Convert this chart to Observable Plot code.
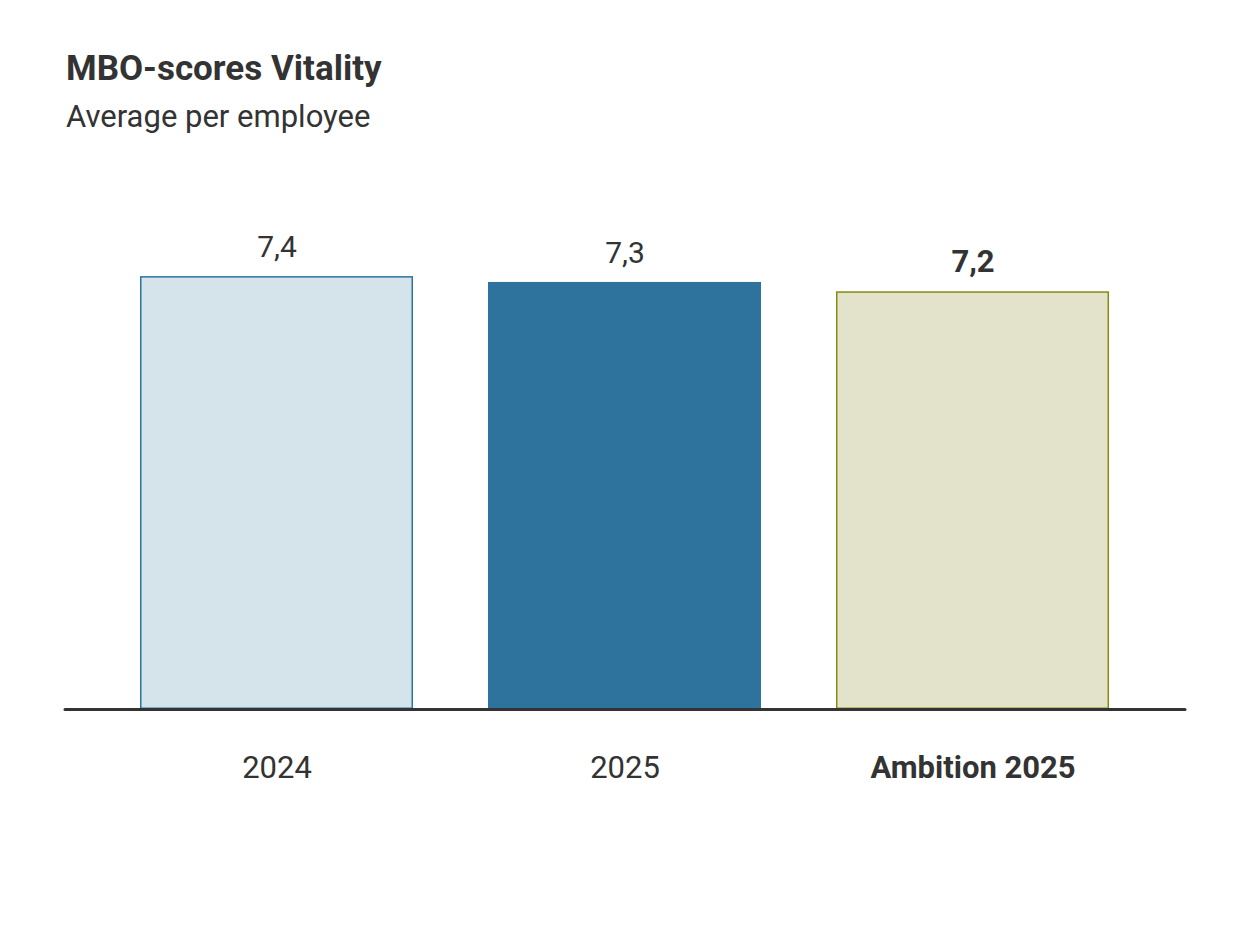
<!DOCTYPE html>
<html>
<head>
<meta charset="utf-8">
<script src="https://cdn.jsdelivr.net/npm/d3@7"></script>
<script src="https://cdn.jsdelivr.net/npm/@observablehq/plot@0.6"></script>
<style>
  html, body { margin: 0; padding: 0; background: #fff; }
  body { width: 1250px; height: 938px; position: relative; font-family: Roboto, sans-serif; color: #333; overflow: hidden; }
  #title { position: absolute; left: 66px; top: 51px; font-size: 35px; font-weight: 700; line-height: 1; white-space: nowrap; }
  #subtitle { position: absolute; left: 66px; top: 101px; font-size: 31px; font-weight: 400; line-height: 1; white-space: nowrap; }
  #chart { position: absolute; left: 0; top: 150px; }
</style>
</head>
<body>
<div id="title">MBO-scores Vitality</div>
<div id="subtitle">Average per employee</div>
<div id="chart"></div>
<script>
const categories = ["2024", "2025", "Ambition 2025"];
const values = [7.4, 7.3, 7.14];
const labels = ["7,4", "7,3", "7,2"];
const fills = ["#d5e3eb", "#2e739d", "#e3e3cb"];
const strokes = ["#2e74a0", "#2e739d", "#8a8a10"];
const bold = [false, false, true];

const data = categories.map((c, i) => ({cat: c, value: values[i], label: labels[i], fill: fills[i], stroke: strokes[i], bold: bold[i]}));

const chart = Plot.plot({
  width: 1250,
  height: 788,
  marginLeft: 65,
  marginRight: 65,
  marginTop: 91,
  marginBottom: 229,
  style: {fontFamily: "Roboto, sans-serif", color: "#333", background: "transparent"},
  x: {domain: categories, padding: 0.215, axis: null},
  y: {domain: [0, 8], axis: null},
  marks: [
    Plot.barY(data, {x: "cat", y: "value", fill: d => d.fill, stroke: d => d.stroke, strokeWidth: 1.5, inset: 0.75}),
    Plot.ruleY([0], {stroke: "#333", strokeWidth: 3, strokeLinecap: "round"}),
    Plot.text(data, {filter: d => !d.bold, x: "cat", y: "value", text: "label", dy: -29, fontSize: 30, fill: "#333"}),
    Plot.text(data, {filter: d => d.bold, x: "cat", y: "value", text: "label", dy: -30, fontSize: 31, fontWeight: 700, fill: "#333"}),
    Plot.text(data, {filter: d => !d.bold, x: "cat", y: 0, text: "cat", dy: 59, fontSize: 31, fill: "#333"}),
    Plot.text(data, {filter: d => d.bold, x: "cat", y: 0, text: "cat", dy: 59, fontSize: 31, fontWeight: 700, fill: "#333"})
  ]
});
chart.querySelectorAll("text").forEach(t => t.setAttribute("fill", "#333"));
document.getElementById("chart").appendChild(chart);
</script>
</body>
</html>
